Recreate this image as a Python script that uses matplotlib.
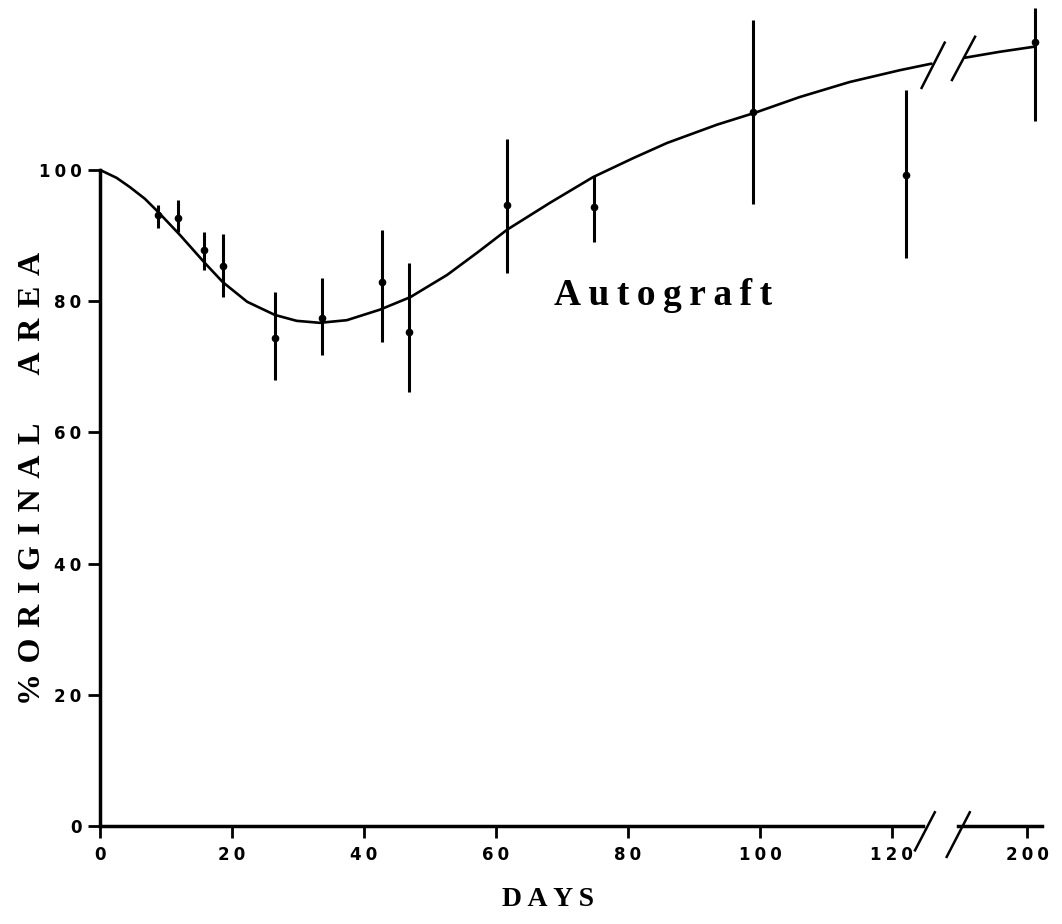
import numpy as np
import matplotlib
matplotlib.use("Agg")
import matplotlib.pyplot as plt

# measured points: day, mean % of original area, bar low, bar high
days = [8.8, 11.8, 15.8, 18.6, 26.5, 33.6, 42.7, 46.8, 61.7, 74.8, 98.9, 122.1, 208]
area = [93.1, 92.7, 87.8, 85.4, 74.4, 77.4, 82.9, 75.3, 94.7, 94.4, 108.8, 99.2, 119.5]
low = [91.2, 90.5, 84.8, 80.6, 68.0, 71.8, 73.8, 66.2, 84.3, 89.0, 94.8, 86.6, 107.5]
high = [94.7, 95.4, 90.5, 90.2, 81.4, 83.5, 90.9, 85.8, 104.7, 99.1, 122.9, 112.2, 124.7]

# hand-drawn fitted curve (before and after the axis break)
fit_days = [0, 2.5, 4.5, 6.8, 8.8, 12.1, 15.9, 18.6, 22.3, 26.5, 29.8, 33.3, 37.4, 42.4,
            47, 52.6, 57.3, 61.7, 68.2, 74.7, 80.8, 85.9, 93.5, 99.2, 106, 113.6, 121.2, 126]
fit_area = [100, 98.8, 97.4, 95.6, 93.6, 90.1, 85.8, 82.9, 79.9, 77.9, 77.0, 76.7, 77.1,
            78.7, 80.6, 84.0, 87.5, 90.9, 95.0, 98.9, 101.8, 104.1, 106.9, 108.7, 111.1,
            113.4, 115.2, 116.2]
tail_days = [137, 172, 208]
tail_area = [117.1, 118.0, 118.8]

x_ticks = [0, 20, 40, 60, 80, 100, 120, 200]
y_ticks = [0, 20, 40, 60, 80, 100]

BREAK = 130
SQUEEZE = 0.15


def fwd(d):
    d = np.asarray(d, dtype=float)
    return np.where(d <= BREAK, d, BREAK + (d - BREAK) * SQUEEZE)


def inv(x):
    x = np.asarray(x, dtype=float)
    return np.where(x <= BREAK, x, BREAK + (x - BREAK) / SQUEEZE)


def spaced(s, sep="\u2009"):
    return sep.join(s)


serif = ["Liberation Serif", "DejaVu Serif"]
sans = ["DejaVu Sans"]

fig = plt.figure(figsize=(10.62, 9.24), dpi=100)
ax = fig.add_axes([0.0942, 0.106, 0.887, 0.894])
ax.set_xscale("function", functions=(fwd, inv))
ax.set_xlim(0, 215)
ax.set_ylim(0, 125.9)

# curve
ax.plot(fit_days, fit_area, color="black", lw=1.9, solid_capstyle="round")
ax.plot(tail_days, tail_area, color="black", lw=1.9, solid_capstyle="round")

# error bars
yerr = [np.array(area) - np.array(low), np.array(high) - np.array(area)]
ax.errorbar(days, area, yerr=yerr, fmt="o", color="black", ms=4.5,
            elinewidth=2.2, capsize=0, zorder=3)

# axes styling
for side in ["top", "right", "bottom"]:
    ax.spines[side].set_visible(False)
ax.spines["left"].set_linewidth(2.5)
ax.spines["left"].set_bounds(0, 100)

# broken x-axis line drawn in two pieces
ax.plot([0, 124.7], [0, 0], color="black", lw=2.5, clip_on=False, zorder=4)
ax.plot([130.3, 215], [0, 0], color="black", lw=2.5, clip_on=False, zorder=4)

# break marks on axis and on curve
ax.plot([123.5, 126.5], [-3.7, 2.1], color="black", lw=1.8, clip_on=False)
ax.plot([inv(128.3), inv(131.8)], [-4.7, 2.1], color="black", lw=1.8, clip_on=False)
ax.plot([124.5, 128.0], [112.5, 119.4], color="black", lw=1.8)
ax.plot([inv(129.1), inv(132.6)], [113.7, 120.3], color="black", lw=1.8)

ax.set_xticks(x_ticks)
ax.set_xticklabels([spaced(str(t), "\u2005") for t in x_ticks])
ax.set_yticks(y_ticks)
ax.set_yticklabels([spaced(str(t), "\u2005") for t in y_ticks])
ax.tick_params(axis="both", direction="out", length=8.5, width=2, color="black")
ax.tick_params(axis="x", pad=6)
ax.tick_params(axis="y", pad=5)
for lab in ax.get_xticklabels() + ax.get_yticklabels():
    lab.set_fontfamily(sans)
    lab.set_fontweight("bold")
    lab.set_fontsize(12)

ax.text(85.3, 79.4, spaced("Autograft"), fontsize=27, fontweight="bold",
        family=serif, ha="center", va="baseline")

fig.text(33 / 1062, 1 - 478 / 924,
         spaced("%ORIGINAL", "\u2004") + "\u2003\u2002" + spaced("AREA", "\u2004"),
         rotation=90, fontsize=23, fontweight="bold", family=serif,
         ha="center", va="center")
fig.text(548 / 1062, 1 - 900 / 924, spaced("DAYS"), fontsize=20, fontweight="bold",
         family=serif, ha="center", va="center")

fig.savefig("out.png", dpi=100)
